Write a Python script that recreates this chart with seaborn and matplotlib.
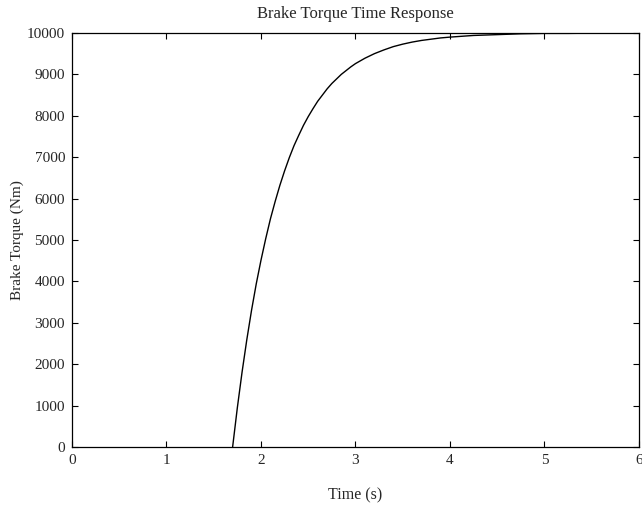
import numpy as np
import pandas as pd
import matplotlib
matplotlib.use("Agg")
import matplotlib.pyplot as plt
import seaborn as sns

# values
time_s = [1.70, 1.75, 1.80, 1.85, 1.90, 1.95, 2.00, 2.05, 2.10, 2.15, 2.20,
          2.25, 2.30, 2.35, 2.40, 2.45, 2.50, 2.55, 2.60, 2.65, 2.70, 2.75,
          2.80, 2.85, 2.90, 2.95, 3.00, 3.10, 3.20, 3.30, 3.40, 3.50, 3.60,
          3.70, 3.80, 3.90, 4.00, 4.25, 4.50, 4.75, 5.00, 5.25, 5.50, 5.75, 6.00]
torque_nm = [0, 950, 1810, 2590, 3300, 3940, 4510, 5030, 5510, 5930, 6320,
             6670, 6990, 7280, 7530, 7770, 7980, 8170, 8350, 8500, 8650, 8780,
             8890, 9000, 9090, 9180, 9260, 9390, 9500, 9590, 9670, 9730, 9780,
             9820, 9850, 9880, 9900, 9940, 9960, 9980, 9990, 9990, 9995, 9997, 9998]
x_ticks = [0, 1, 2, 3, 4, 5, 6]
y_ticks = [0, 1000, 2000, 3000, 4000, 5000, 6000, 7000, 8000, 9000, 10000]

df = pd.DataFrame({"Time (s)": time_s, "Brake Torque (Nm)": torque_nm})

sns.set_style("ticks")
plt.rcParams["font.family"] = ["Liberation Serif", "DejaVu Serif"]
plt.rcParams["xtick.direction"] = "in"
plt.rcParams["ytick.direction"] = "in"

fig = plt.figure(figsize=(6.42, 5.08), dpi=100)
ax = fig.add_axes([0.1121, 0.1201, 0.8832, 0.8150])

sns.lineplot(data=df, x="Time (s)", y="Brake Torque (Nm)", ax=ax,
             color="black", linewidth=1.0)

ax.set_xlim(0, 6)
ax.set_ylim(0, 10000)
ax.set_xticks(x_ticks)
ax.set_yticks(y_ticks)
ax.tick_params(axis="both", which="both", top=True, right=True,
               length=4, width=0.8, labelsize=11, color="black", pad=5)
for s in ax.spines.values():
    s.set_linewidth(0.9)
    s.set_color("black")

ax.set_title("Brake Torque Time Response", fontsize=12, pad=11)
ax.set_xlabel("Time (s)", fontsize=11.5, labelpad=15)
ax.set_ylabel("Brake Torque (Nm)", fontsize=11, labelpad=2)

fig.savefig("out.png", dpi=100, facecolor="white")
